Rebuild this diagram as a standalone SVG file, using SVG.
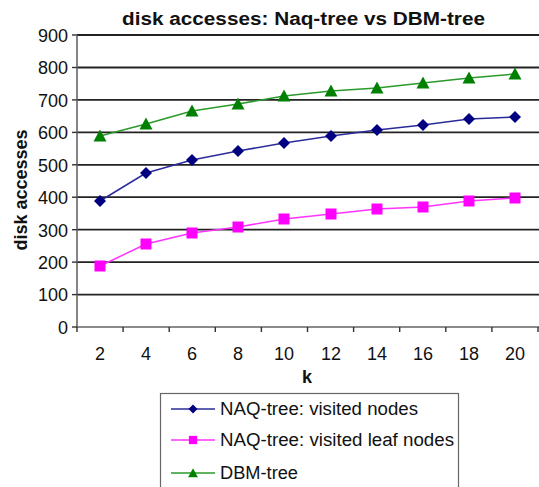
<svg xmlns="http://www.w3.org/2000/svg" width="539" height="487" viewBox="0 0 539 487">
<style>
text{font-family:"Liberation Sans",Arial,sans-serif;fill:#111}
.title{font-size:18px;font-weight:bold}
.ax{font-size:18px}
.axt{font-size:18px;font-weight:bold}
.lg{font-size:18px}
.grid{stroke:#222;stroke-width:1.8}
.axis{stroke:#666;stroke-width:1.6;fill:none}
.tick{stroke:#333;stroke-width:1.4}
.sb{fill:none;stroke:#2b2b9a;stroke-width:1.5}
.sm{fill:none;stroke:#ff33ff;stroke-width:1.5}
.sg{fill:none;stroke:#2a9a2a;stroke-width:1.5}
</style>
<defs>
<path id="dia" d="M0,-6 L6,0 L0,6 L-6,0 Z" fill="#000080"/>
<rect id="sq" x="-5.5" y="-5.5" width="11" height="11" fill="#ff00ff"/>
<path id="tri" d="M0,-6.5 L6.5,5.5 L-6.5,5.5 Z" fill="#008000"/>
</defs>
<rect width="539" height="487" fill="#fff"/>
<text class="title" x="122" y="25" textLength="363" lengthAdjust="spacingAndGlyphs">disk accesses: Naq-tree  vs  DBM-tree</text>
<g id="grid">
<line class="grid" x1="77" y1="35" x2="539" y2="35"/>
<line class="grid" x1="77" y1="67.5" x2="539" y2="67.5"/>
<line class="grid" x1="77" y1="99.9" x2="539" y2="99.9"/>
<line class="grid" x1="77" y1="132.4" x2="539" y2="132.4"/>
<line class="grid" x1="77" y1="164.8" x2="539" y2="164.8"/>
<line class="grid" x1="77" y1="197.2" x2="539" y2="197.2"/>
<line class="grid" x1="77" y1="229.7" x2="539" y2="229.7"/>
<line class="grid" x1="77" y1="262.1" x2="539" y2="262.1"/>
<line class="grid" x1="77" y1="294.6" x2="539" y2="294.6"/>
</g>
<g id="axes">
<path class="axis" d="M77,35 V327 H539"/>
<g class="tick">
<line x1="72" y1="35" x2="77" y2="35"/><line x1="72" y1="67.5" x2="77" y2="67.5"/><line x1="72" y1="99.9" x2="77" y2="99.9"/><line x1="72" y1="132.4" x2="77" y2="132.4"/><line x1="72" y1="164.8" x2="77" y2="164.8"/><line x1="72" y1="197.2" x2="77" y2="197.2"/><line x1="72" y1="229.7" x2="77" y2="229.7"/><line x1="72" y1="262.1" x2="77" y2="262.1"/><line x1="72" y1="294.6" x2="77" y2="294.6"/><line x1="72" y1="327" x2="77" y2="327"/>
<line x1="77" y1="327" x2="77" y2="332"/><line x1="123.1" y1="327" x2="123.1" y2="332"/><line x1="169.2" y1="327" x2="169.2" y2="332"/><line x1="215.3" y1="327" x2="215.3" y2="332"/><line x1="261.4" y1="327" x2="261.4" y2="332"/><line x1="307.5" y1="327" x2="307.5" y2="332"/><line x1="353.6" y1="327" x2="353.6" y2="332"/><line x1="399.7" y1="327" x2="399.7" y2="332"/><line x1="445.8" y1="327" x2="445.8" y2="332"/><line x1="491.9" y1="327" x2="491.9" y2="332"/><line x1="538" y1="327" x2="538" y2="332"/>
</g>
<g class="ax" text-anchor="end">
<text x="68" y="41.5">900</text><text x="68" y="74">800</text><text x="68" y="106.5">700</text><text x="68" y="139">600</text><text x="68" y="171.5">500</text><text x="68" y="203.5">400</text><text x="68" y="236.5">300</text><text x="68" y="268.5">200</text><text x="68" y="301">100</text><text x="68" y="333.5">0</text>
</g>
<g class="ax" text-anchor="middle">
<text x="100" y="360">2</text><text x="146" y="360">4</text><text x="192" y="360">6</text><text x="238" y="360">8</text><text x="284" y="360">10</text><text x="331" y="360">12</text><text x="377" y="360">14</text><text x="423" y="360">16</text><text x="469" y="360">18</text><text x="515" y="360">20</text>
</g>
<text class="axt" x="307" y="383" text-anchor="middle">k</text>
<text class="axt" transform="translate(27,190) rotate(-90)" text-anchor="middle">disk accesses</text>
</g>
<g id="connectors">
<polyline class="sg" points="100,136 146,124 192,111 238,104 284,96 331,91 377,88 423,83 469,78 515,74"/>
<polyline class="sb" points="100,201 146,173 192,160 238,151 284,143 331,136 377,130 423,125 469,119 515,117"/>
<polyline class="sm" points="100,266 146,244 192,233 238,227 284,219 331,214 377,209 423,207 469,201 515,198"/>
</g>
<g id="series-dbm">
<use href="#tri" x="100" y="136"/><use href="#tri" x="146" y="124"/><use href="#tri" x="192" y="111"/><use href="#tri" x="238" y="104"/><use href="#tri" x="284" y="96"/><use href="#tri" x="331" y="91"/><use href="#tri" x="377" y="88"/><use href="#tri" x="423" y="83"/><use href="#tri" x="469" y="78"/><use href="#tri" x="515" y="74"/>
</g>
<g id="series-naq-nodes">
<use href="#dia" x="100" y="201"/><use href="#dia" x="146" y="173"/><use href="#dia" x="192" y="160"/><use href="#dia" x="238" y="151"/><use href="#dia" x="284" y="143"/><use href="#dia" x="331" y="136"/><use href="#dia" x="377" y="130"/><use href="#dia" x="423" y="125"/><use href="#dia" x="469" y="119"/><use href="#dia" x="515" y="117"/>
</g>
<g id="series-naq-leaf">
<use href="#sq" x="100" y="266"/><use href="#sq" x="146" y="244"/><use href="#sq" x="192" y="233"/><use href="#sq" x="238" y="227"/><use href="#sq" x="284" y="219"/><use href="#sq" x="331" y="214"/><use href="#sq" x="377" y="209"/><use href="#sq" x="423" y="207"/><use href="#sq" x="469" y="201"/><use href="#sq" x="515" y="198"/>
</g>
<g id="legend">
<rect x="160.5" y="393.5" width="298" height="100" fill="#fff" stroke="#666" stroke-width="1.2"/>
<line class="sb" x1="171" y1="409" x2="215" y2="409"/><use href="#dia" x="193" y="409" transform="translate(193,409) scale(0.75) translate(-193,-409)"/>
<text class="lg" x="220" y="415" textLength="198" lengthAdjust="spacingAndGlyphs">NAQ-tree: visited nodes</text>
<line class="sm" x1="171" y1="440" x2="215" y2="440"/><use href="#sq" x="193" y="440" transform="translate(193,440) scale(0.75) translate(-193,-440)"/>
<text class="lg" x="220" y="446" textLength="234" lengthAdjust="spacingAndGlyphs">NAQ-tree: visited leaf nodes</text>
<line class="sg" x1="171" y1="473" x2="215" y2="473"/><use href="#tri" x="193" y="473" transform="translate(193,473) scale(0.75) translate(-193,-473)"/>
<text class="lg" x="220" y="479" textLength="78" lengthAdjust="spacingAndGlyphs">DBM-tree</text>
</g>
</svg>
